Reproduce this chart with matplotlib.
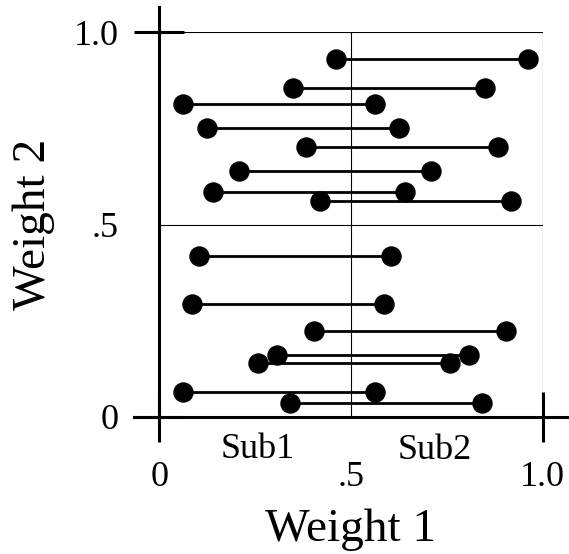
import matplotlib
matplotlib.use("Agg")
import matplotlib.pyplot as plt

plt.rcParams['font.family'] = ['Liberation Serif', 'DejaVu Serif']

# one row per pair: weight 1 of sub1 (left dot), weight 1 of sub2 (right dot), weight 2
sub1_w1 = [0.461, 0.348, 0.063, 0.125, 0.382, 0.209, 0.139, 0.418,
           0.104, 0.084, 0.404, 0.307, 0.258, 0.063, 0.341]
sub2_w1 = [0.962, 0.849, 0.564, 0.626, 0.884, 0.709, 0.641, 0.918,
           0.605, 0.585, 0.905, 0.808, 0.759, 0.564, 0.843]
w2 = [0.931, 0.854, 0.813, 0.750, 0.702, 0.640, 0.584, 0.562,
      0.418, 0.293, 0.224, 0.161, 0.141, 0.064, 0.036]

ticks = [0, 0.5, 1.0]
tick_labels = ['0', '.5', '1.0']

fig = plt.figure(figsize=(5.69, 5.54), dpi=100)
ax = fig.add_axes([0.28, 0.2478, 0.6735, 0.6939])
ax.set_xlim(0, 1)
ax.set_ylim(0, 1)

# thin frame and quadrant lines
for v in [0.5, 1.0]:
    ax.axvline(v, color='black', lw=0.8, zorder=1)
    ax.axhline(v, color='black', lw=0.8, zorder=1)

for a, b, y in zip(sub1_w1, sub2_w1, w2):
    ax.plot([a, b], [y, y], color='black', lw=2.0, marker='o', ms=13.7,
            solid_capstyle='butt', zorder=3)

ax.spines['top'].set_visible(False)
ax.spines['right'].set_visible(False)
for s in ['left', 'bottom']:
    ax.spines[s].set_linewidth(2.2)
ax.spines['left'].set_bounds(0, 1.065)
ax.spines['bottom'].set_bounds(-0.065, 1.1)

ax.set_xticks(ticks)
ax.set_xticklabels(tick_labels)
ax.set_yticks(ticks)
ax.set_yticklabels(tick_labels)
ax.tick_params(axis='both', direction='inout', length=36, width=2.2,
               labelsize=26)
ax.tick_params(axis='x', pad=14)
ax.tick_params(axis='y', pad=11)
# the .5 labels have no tick mark
ax.xaxis.get_major_ticks()[1].tick1line.set_visible(False)
ax.yaxis.get_major_ticks()[1].tick1line.set_visible(False)

ax.text(0.257, -0.107, 'Sub1', fontsize=26, ha='center', va='baseline')
ax.text(0.72, -0.109, 'Sub2', fontsize=26, ha='center', va='baseline')

ax.set_xlabel('Weight 1', fontsize=34, labelpad=10)
ax.set_ylabel('Weight 2', fontsize=34, labelpad=14)

fig.savefig('out.png', dpi=100)
